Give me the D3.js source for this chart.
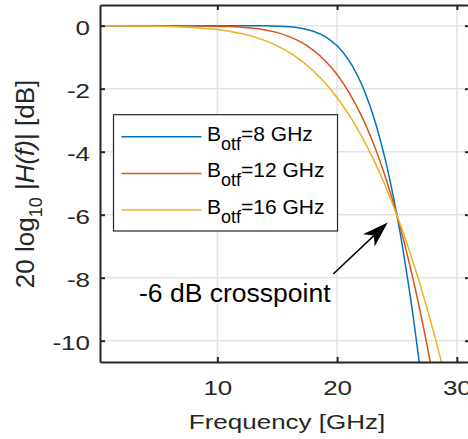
<!DOCTYPE html>
<html>
<head>
<meta charset="utf-8">
<script src="https://cdn.jsdelivr.net/npm/d3@7"></script>
<style>
  html, body { margin: 0; padding: 0; background: #fff; }
  #chart { width: 468px; height: 439px; }
  svg { display: block; font-family: 'Liberation Sans', Arial, Helvetica, sans-serif; }
</style>
</head>
<body>
<div id="chart"></div>
<script>
// values (dB vs GHz)
const frequency = [0.2, 2, 4, 6, 8, 10, 11, 12, 13, 14, 15, 16, 17, 18, 19, 20, 21, 22, 23, 24, 25, 26, 27, 28, 29, 30];
const botf8 = [0, 0, 0, 0, 0, 0, 0, -0.001, -0.002, -0.005, -0.014, -0.036, -0.082, -0.175, -0.346, -0.639,
  -1.110, -1.820, -2.833, -4.212, -6.021, -8.307, -11.11, -14.47, -18.4, -23.0];
const botf12 = [0, 0, 0, -0.001, -0.004, -0.014, -0.027, -0.047, -0.082, -0.137, -0.220, -0.346, -0.523, -0.774, -1.110, -1.550,
  -2.123, -2.833, -3.710, -4.766, -6.021, -7.486, -9.179, -11.11, -13.28, -15.74];
const botf16 = [-0.001, -0.003, -0.009, -0.023, -0.055, -0.121, -0.175, -0.248, -0.346, -0.474, -0.639, -0.849, -1.110, -1.432, -1.820, -2.285,
  -2.833, -3.473, -4.212, -5.059, -6.021, -7.101, -8.307, -9.640, -11.11, -12.72];
const seriesLabels = ['8 GHz', '12 GHz', '16 GHz'];
const seriesColors = ['#0072bd', '#d95319', '#edb120'];
const xTicks = [10, 20, 30];
const yTicks = [0, -2, -4, -6, -8, -10];

const margin = Object.freeze({ top: 5, right: -2, bottom: 77, left: 100 });
const ink = '#262626';

class FilterPlot {
  constructor (el) {
    this.el = el;
    this.series = [botf8, botf12, botf16].map((vals, i) => ({
      label: seriesLabels[i],
      color: seriesColors[i],
      points: frequency.map((f, j) => ({ f: f, v: vals[j] }))
    }));
  }

  draw () {
    this._setSize();
    this._createSvg();
    this._prepareScales();
    this._drawGrid();
    this._drawCurves();
    this._drawAxes();
    this._drawAxisLabels();
    this._drawLegend();
    this._drawAnnotation();
    return this;
  }

  _setSize () {
    this.width = 468;
    this.height = 439;
    this.w = this.width - margin.left - margin.right;
    this.h = this.height - margin.top - margin.bottom;
  }

  _createSvg () {
    this.svg = d3.select(this.el).append('svg')
      .attr('width', this.width)
      .attr('height', this.height);
    this.svg.append('rect').attr('width', this.width).attr('height', this.height).attr('fill', '#fff');
    this.layer = this.svg.append('g')
      .attr('transform', `translate(${margin.left}, ${margin.top})`);
    this.svg.append('defs').append('clipPath').attr('id', 'plot-clip')
      .append('rect').attr('width', this.w).attr('height', this.h);
  }

  _prepareScales () {
    this.x = d3.scaleLinear().domain([0.2, 31.1]).range([0, this.w]);
    this.y = d3.scaleLinear().domain([-10.676, 0.657]).range([this.h, 0]);
  }

  _drawGrid () {
    const grid = this.layer.append('g').attr('class', 'grid')
      .attr('stroke', '#e4e4e4').attr('stroke-width', 1.5);
    grid.selectAll('.gx').data(xTicks).join('line')
      .attr('x1', d => this.x(d)).attr('x2', d => this.x(d))
      .attr('y1', 0).attr('y2', this.h);
    grid.selectAll('.gy').data(yTicks).join('line')
      .attr('y1', d => this.y(d)).attr('y2', d => this.y(d))
      .attr('x1', 0).attr('x2', this.w);
  }

  _drawCurves () {
    const line = d3.line()
      .x(d => this.x(d.f))
      .y(d => this.y(d.v))
      .curve(d3.curveCatmullRom);
    this.layer.append('g').attr('clip-path', 'url(#plot-clip)')
      .selectAll('path').data(this.series).join('path')
      .attr('d', d => line(d.points))
      .attr('fill', 'none')
      .attr('stroke', d => d.color)
      .attr('stroke-width', 1.5);
  }

  _styleAxis (g) {
    g.attr('font-size', 26).attr('font-family', null);
    g.select('.domain').attr('stroke', ink).attr('stroke-width', 2);
    g.selectAll('.tick line').attr('stroke', ink).attr('stroke-width', 2);
    g.selectAll('text').attr('fill', ink);
  }

  _drawAxes () {
    const fmt = d => String(d);
    const bottom = this.layer.append('g')
      .attr('transform', `translate(0, ${this.h})`)
      .call(d3.axisBottom(this.x).tickValues(xTicks).tickFormat(fmt).tickSize(-5).tickSizeOuter(0));
    this._styleAxis(bottom);
    bottom.selectAll('text').attr('y', 0).attr('dy', null)
      .attr('transform', 'translate(0, 33) scale(1, 0.81)');

    const top = this.layer.append('g')
      .call(d3.axisTop(this.x).tickValues(xTicks).tickFormat('').tickSize(-5).tickSizeOuter(0));
    this._styleAxis(top);

    const left = this.layer.append('g')
      .call(d3.axisLeft(this.y).tickValues(yTicks).tickFormat(fmt).tickSize(-5).tickSizeOuter(0).tickPadding(10));
    this._styleAxis(left);
    left.selectAll('text').attr('dy', '0.43em').attr('transform', 'scale(1, 0.81)');

    const right = this.layer.append('g')
      .attr('transform', `translate(${this.w}, 0)`)
      .call(d3.axisRight(this.y).tickValues(yTicks).tickFormat('').tickSize(-5).tickSizeOuter(0));
    this._styleAxis(right);
  }

  _drawAxisLabels () {
    this.svg.append('text')
      .attr('transform', 'translate(287, 428.5) scale(1, 0.81)')
      .attr('text-anchor', 'middle')
      .attr('font-size', 26)
      .attr('fill', ink)
      .text('Frequency [GHz]');

    const yl = this.svg.append('text')
      .attr('transform', 'translate(33.5, 184) rotate(-90)')
      .attr('text-anchor', 'middle')
      .attr('font-size', 26)
      .attr('fill', ink);
    yl.append('tspan').text('20 log');
    yl.append('tspan').attr('font-size', 18).attr('dy', 8).text('10');
    yl.append('tspan').attr('dy', -8).text(' |');
    yl.append('tspan').attr('font-style', 'italic').text('H(f)');
    yl.append('tspan').text('| [dB]');
  }

  _drawLegend () {
    const legend = this.svg.append('g').attr('class', 'legend')
      .attr('transform', 'translate(113.5, 114.7)');
    legend.append('rect')
      .attr('width', 224).attr('height', 116.3)
      .attr('fill', '#fff').attr('stroke', ink).attr('stroke-width', 1.2);

    const rows = legend.selectAll('.row').data(this.series).join('g')
      .attr('transform', (d, i) => `translate(0, ${22 + i * 36.7})`);
    rows.append('line')
      .attr('x1', 8).attr('x2', 88)
      .attr('stroke', d => d.color).attr('stroke-width', 1.5);
    const txt = rows.append('text')
      .attr('x', 93.5).attr('y', 4)
      .attr('font-size', 21).attr('fill', '#000');
    txt.append('tspan').text('B');
    txt.append('tspan').attr('font-size', 18).attr('dy', 9).text('otf');
    txt.append('tspan').attr('dy', -9).text(d => '=' + d.label);
  }

  _drawAnnotation () {
    const tail = [this.x(19.68) + margin.left, this.y(-7.88) + margin.top];
    const tip = [this.x(24.23) + margin.left, this.y(-6.25) + margin.top];
    const dx = tip[0] - tail[0];
    const dy = tip[1] - tail[1];
    const len = Math.hypot(dx, dy);
    const ux = dx / len, uy = dy / len;
    const px = -uy, py = ux;
    const headLen = 26, halfW = 8.5, notch = 19;
    const at = (back, side) => [tip[0] - ux * back + px * side, tip[1] - uy * back + py * side];
    const g = this.svg.append('g').attr('class', 'annotation');
    const neck = at(notch, 0);
    g.append('line')
      .attr('x1', tail[0]).attr('y1', tail[1])
      .attr('x2', neck[0]).attr('y2', neck[1])
      .attr('stroke', '#000').attr('stroke-width', 1.5);
    g.append('polygon')
      .attr('points', [tip, at(headLen, halfW), neck, at(headLen, -halfW)].map(p => p.join(',')).join(' '))
      .attr('fill', '#000');

    g.append('text')
      .attr('x', this.x(3.46) + margin.left)
      .attr('y', this.y(-8.76) + margin.top)
      .attr('font-size', 26.5).attr('fill', '#000')
      .text('-6 dB crosspoint');
  }
}

new FilterPlot(document.getElementById('chart')).draw();
</script>
</body>
</html>
